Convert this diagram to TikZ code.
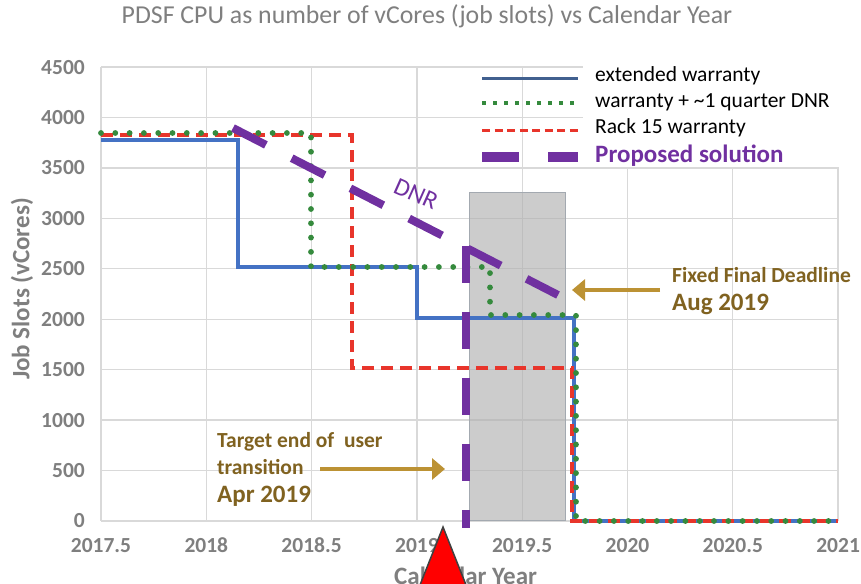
\documentclass[tikz,border=0pt]{standalone}
\usepackage{fontspec}
\setmainfont{Carlito}
\usetikzlibrary{arrows.meta}
\definecolor{gridc}{HTML}{D9D9D9}
\definecolor{blueL}{HTML}{4472C4}
\definecolor{blueLeg}{HTML}{41608F}
\definecolor{greenL}{HTML}{358A3D}
\definecolor{redL}{HTML}{E8352B}
\definecolor{purp}{HTML}{7030A0}
\definecolor{goldT}{HTML}{806220}
\definecolor{goldA}{HTML}{BC9234}
\definecolor{axg}{HTML}{7F7F7F}
\definecolor{boxg}{HTML}{B0B0B0}
\definecolor{boxedge}{HTML}{A3A9B0}
\definecolor{triedge}{HTML}{404040}
\begin{document}
\begin{tikzpicture}[x=1pt,y=-1pt,
  gridline/.style={draw=gridc,line width=1.3pt},
  ticklab/.style={text=axg,font=\fontsize{21.5}{24}\selectfont\bfseries,inner sep=0pt},
  axtitle/.style={text=axg,font=\fontsize{25}{28}\selectfont\bfseries,inner sep=0pt},
  blueline/.style={draw=blueL,line width=3.5pt},
  greenline/.style={draw=greenL,line width=5.8pt,line cap=round,dash pattern=on 0pt off 14.3pt},
  redline/.style={draw=redL,line width=4pt,dash pattern=on 12pt off 7pt},
  purpline/.style={draw=purp,line width=8pt,dash pattern=on 37pt off 29pt},
  legtext/.style={text=black,font=\fontsize{21.5}{24}\selectfont,inner sep=0pt,anchor=base west},
  goldtext/.style={text=goldT,font=\fontsize{21.5}{24}\selectfont\bfseries,inner sep=0pt,anchor=base west},
  goldbig/.style={text=goldT,font=\fontsize{25}{28}\selectfont\bfseries,inner sep=0pt,anchor=base west},
  goldarrow/.style={draw=goldA,line width=4pt,-{Triangle[length=13pt,width=21pt]}}
]
\useasboundingbox (0,0) rectangle (861,583);
\begin{scope}
\clip (0,0) rectangle (861,583);
% grid
\foreach \i in {0,...,9} {
  \draw[gridline] (101,{521-\i*50.44}) -- (838,{521-\i*50.44});
}
\foreach \i in {0,...,7} {
  \draw[gridline] ({101+\i*105.3},67) -- ({101+\i*105.3},521);
}
% tick labels
\foreach \v [count=\i from 0] in {0,500,1000,1500,2000,2500,3000,3500,4000,4500} {
  \node[ticklab,anchor=east] (yl\i) at (85,{521-\i*50.44}) {\v};
}
\foreach \v [count=\i from 0] in {2017.5,2018,2018.5,2019,2019.5,2020,2020.5,2021} {
  \node[ticklab,anchor=base] (xl\i) at ({101+\i*105.3},552) {\v};
}
% title and axis titles
\node[text=axg,font=\fontsize{25.8}{28}\selectfont,inner sep=0pt,anchor=base] (title) at (427,24) {PDSF CPU as number of vCores (job slots) vs Calendar Year};
\node[axtitle,rotate=90] (ytitle) at (22,289) {Job Slots (vCores)};
\node[axtitle,anchor=base west] (xtitle) at (394,584) {Calendar Year};
% shaded window
\draw[fill=boxg,fill opacity=0.65,draw=boxedge,line width=0.8pt] (469,192) rectangle (565,520);
% data lines
\draw[blueline] (101,140) -- (238,140) -- (238,267) -- (417,267) -- (417,318) -- (574,318) -- (574,521) -- (838,521);
\draw[redline] (101,135) -- (352,135) -- (352,368) -- (572,368) -- (572,521) -- (838,521);
\draw[greenline] (101,133) -- (311,133) -- (311,267) -- (490,267) -- (490,315) -- (576,315) -- (576,521) -- (838,521);
% proposed solution
\coordinate (ps0) at (233,128);
\coordinate (ps1) at (558,295);
\coordinate (pv0) at (466,246);
\coordinate (pv1) at (466,528);
\draw[purpline] (ps0) -- (ps1);
\draw[purpline] (pv0) -- (pv1);
\node[text=purp,font=\fontsize{25}{28}\selectfont,rotate=-24,inner sep=0pt] (dnr) at (416,194) {DNR};
% legend
\fill[white] (583,58) rectangle (852,167);
\draw[draw=blueLeg,line width=3pt] (482,79) -- (578,79);
\draw[draw=greenL,line width=4pt,dash pattern=on 4pt off 7pt] (482,103) -- (578,103);
\draw[draw=redL,line width=3pt,dash pattern=on 8pt off 4.5pt] (482,130) -- (578,130);
\fill[purp] (482,152) rectangle (519,162);
\fill[purp] (548,152) rectangle (578,162);
\node[legtext] (lg1) at (595,82) {extended warranty};
\node[legtext] (lg2) at (595,107) {warranty + \textasciitilde1 quarter DNR};
\node[legtext] (lg3) at (595,133) {Rack 15 warranty};
\node[legtext,text=purp,font=\fontsize{25}{28}\selectfont\bfseries] (lg4) at (595,162) {Proposed solution};
% annotations
\node[goldtext] (t1) at (217,447) {Target end of~ user};
\node[goldtext] (t2) at (217,474) {transition};
\node[goldbig] (t3) at (217,502) {Apr 2019};
\coordinate (a1s) at (320,469);
\coordinate (a1e) at (445,469);
\draw[goldarrow] (a1s) -- (a1e);
\node[goldtext] (f1) at (672,282) {Fixed Final Deadline};
\node[goldbig] (f2) at (672,310) {Aug 2019};
\coordinate (a2s) at (660,290);
\coordinate (a2e) at (572,290);
\draw[goldarrow] (a2s) -- (a2e);
% red marker
\draw[fill=red,draw=triedge,line width=1.5pt] (443,527) -- (414,600) -- (472,600) -- cycle;
\end{scope}
\end{tikzpicture}
\end{document}
